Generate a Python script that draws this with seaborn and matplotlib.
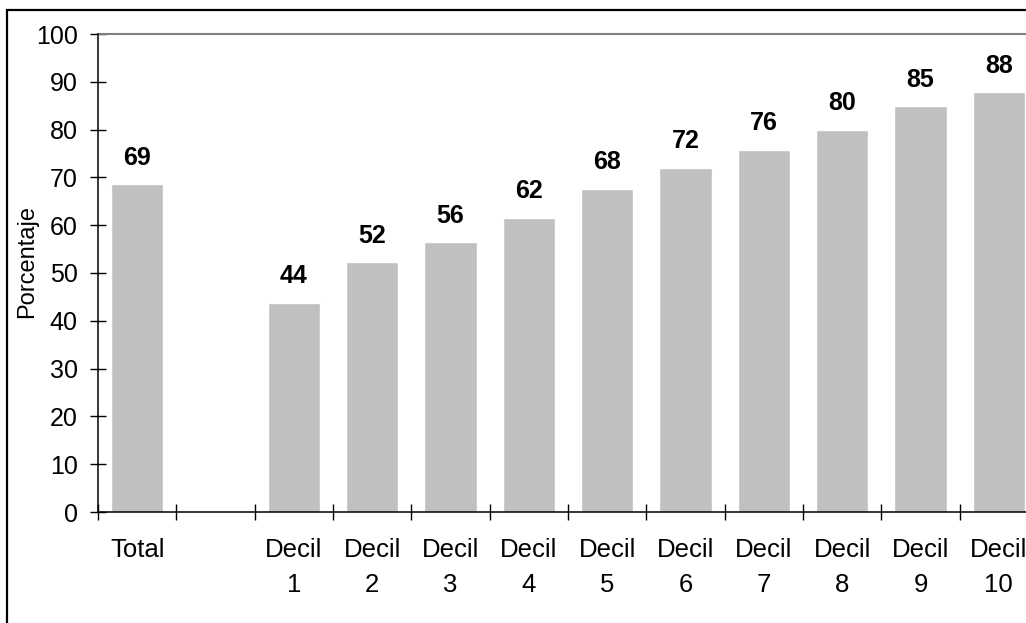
import matplotlib
matplotlib.use("Agg")
import matplotlib.pyplot as plt
from matplotlib.patches import Rectangle
import seaborn as sns
import pandas as pd

categorias = ["Total", "", "Decil 1", "Decil 2", "Decil 3", "Decil 4", "Decil 5",
              "Decil 6", "Decil 7", "Decil 8", "Decil 9", "Decil 10"]
barras = ["Total", "Decil 1", "Decil 2", "Decil 3", "Decil 4", "Decil 5",
          "Decil 6", "Decil 7", "Decil 8", "Decil 9", "Decil 10"]
porcentaje = [68.6, 43.8, 52.2, 56.4, 61.6, 67.6, 72.0, 75.8, 80.0, 84.9, 87.8]
etiquetas = ["69", "44", "52", "56", "62", "68", "72", "76", "80", "85", "88"]
ticks_x = ["Total", "", "Decil\n1", "Decil\n2", "Decil\n3", "Decil\n4", "Decil\n5",
           "Decil\n6", "Decil\n7", "Decil\n8", "Decil\n9", "Decil\n10"]

sns.set_theme(style="white")
plt.rcParams['font.family'] = ['Liberation Sans', 'DejaVu Sans']
plt.rcParams['text.color'] = 'black'

df = pd.DataFrame({"cat": barras, "pct": porcentaje})

W, H = 1026, 623
fig = plt.figure(figsize=(W / 100, H / 100), dpi=100)
ax = fig.add_axes([98 / W, (H - 512) / H, 940 / W, (512 - 34) / H])

sns.barplot(data=df, x="cat", y="pct", order=categorias, color="#C0C0C0",
            saturation=1, width=0.67, ax=ax)

# etiquetas de valor
for i, cat in enumerate(barras):
    xpos = categorias.index(cat)
    ax.annotate(etiquetas[i], (xpos, porcentaje[i]), xytext=(0, 14),
                textcoords="offset points", ha="center", va="baseline",
                fontsize=18, fontweight="bold", color="black")

ax.set_xlim(-0.5, len(categorias) - 0.5)
ax.set_ylim(0, 100)
ax.set_yticks(range(0, 101, 10))
ax.tick_params(axis="y", direction="inout", length=11.5, width=1, color="black",
               labelsize=18, labelcolor="black", pad=9, left=True)

# ticks en los limites de categoria, etiquetas centradas
ax.set_xticks([k - 0.5 for k in range(len(categorias) + 1)])
ax.set_xticklabels([])
ax.set_xticks(range(len(categorias)), minor=True)
ax.set_xticklabels(ticks_x, minor=True, linespacing=1.55)
ax.tick_params(axis="x", which="major", direction="inout", length=11.5, width=1,
               color="black", bottom=True)
ax.tick_params(axis="x", which="minor", length=0, labelsize=18.5,
               labelcolor="black", pad=19)
for t in ax.get_xticklabels(minor=True):
    t.set_multialignment("center")
    t.set_verticalalignment("top")

ax.set_xlabel("")
ax.set_ylabel("")
fig.text(27 / W, 1 - 262 / H, "Porcentaje", rotation=90, ha="center", va="center",
         fontsize=17, color="black")

for s in ["top", "right"]:
    ax.spines[s].set_visible(False)
ax.spines["left"].set_color("black")
ax.spines["bottom"].set_color("black")
ax.spines["left"].set_linewidth(1.1)
ax.spines["bottom"].set_linewidth(1.1)
ax.axhline(100, color="#808080", lw=1.5, clip_on=False)

fig.patches.append(Rectangle((7 / W, -0.1), 1.2, 1.1 - 10 / H, transform=fig.transFigure,
                             fill=False, edgecolor="black", lw=1.6))

fig.savefig("out.png", dpi=100)
